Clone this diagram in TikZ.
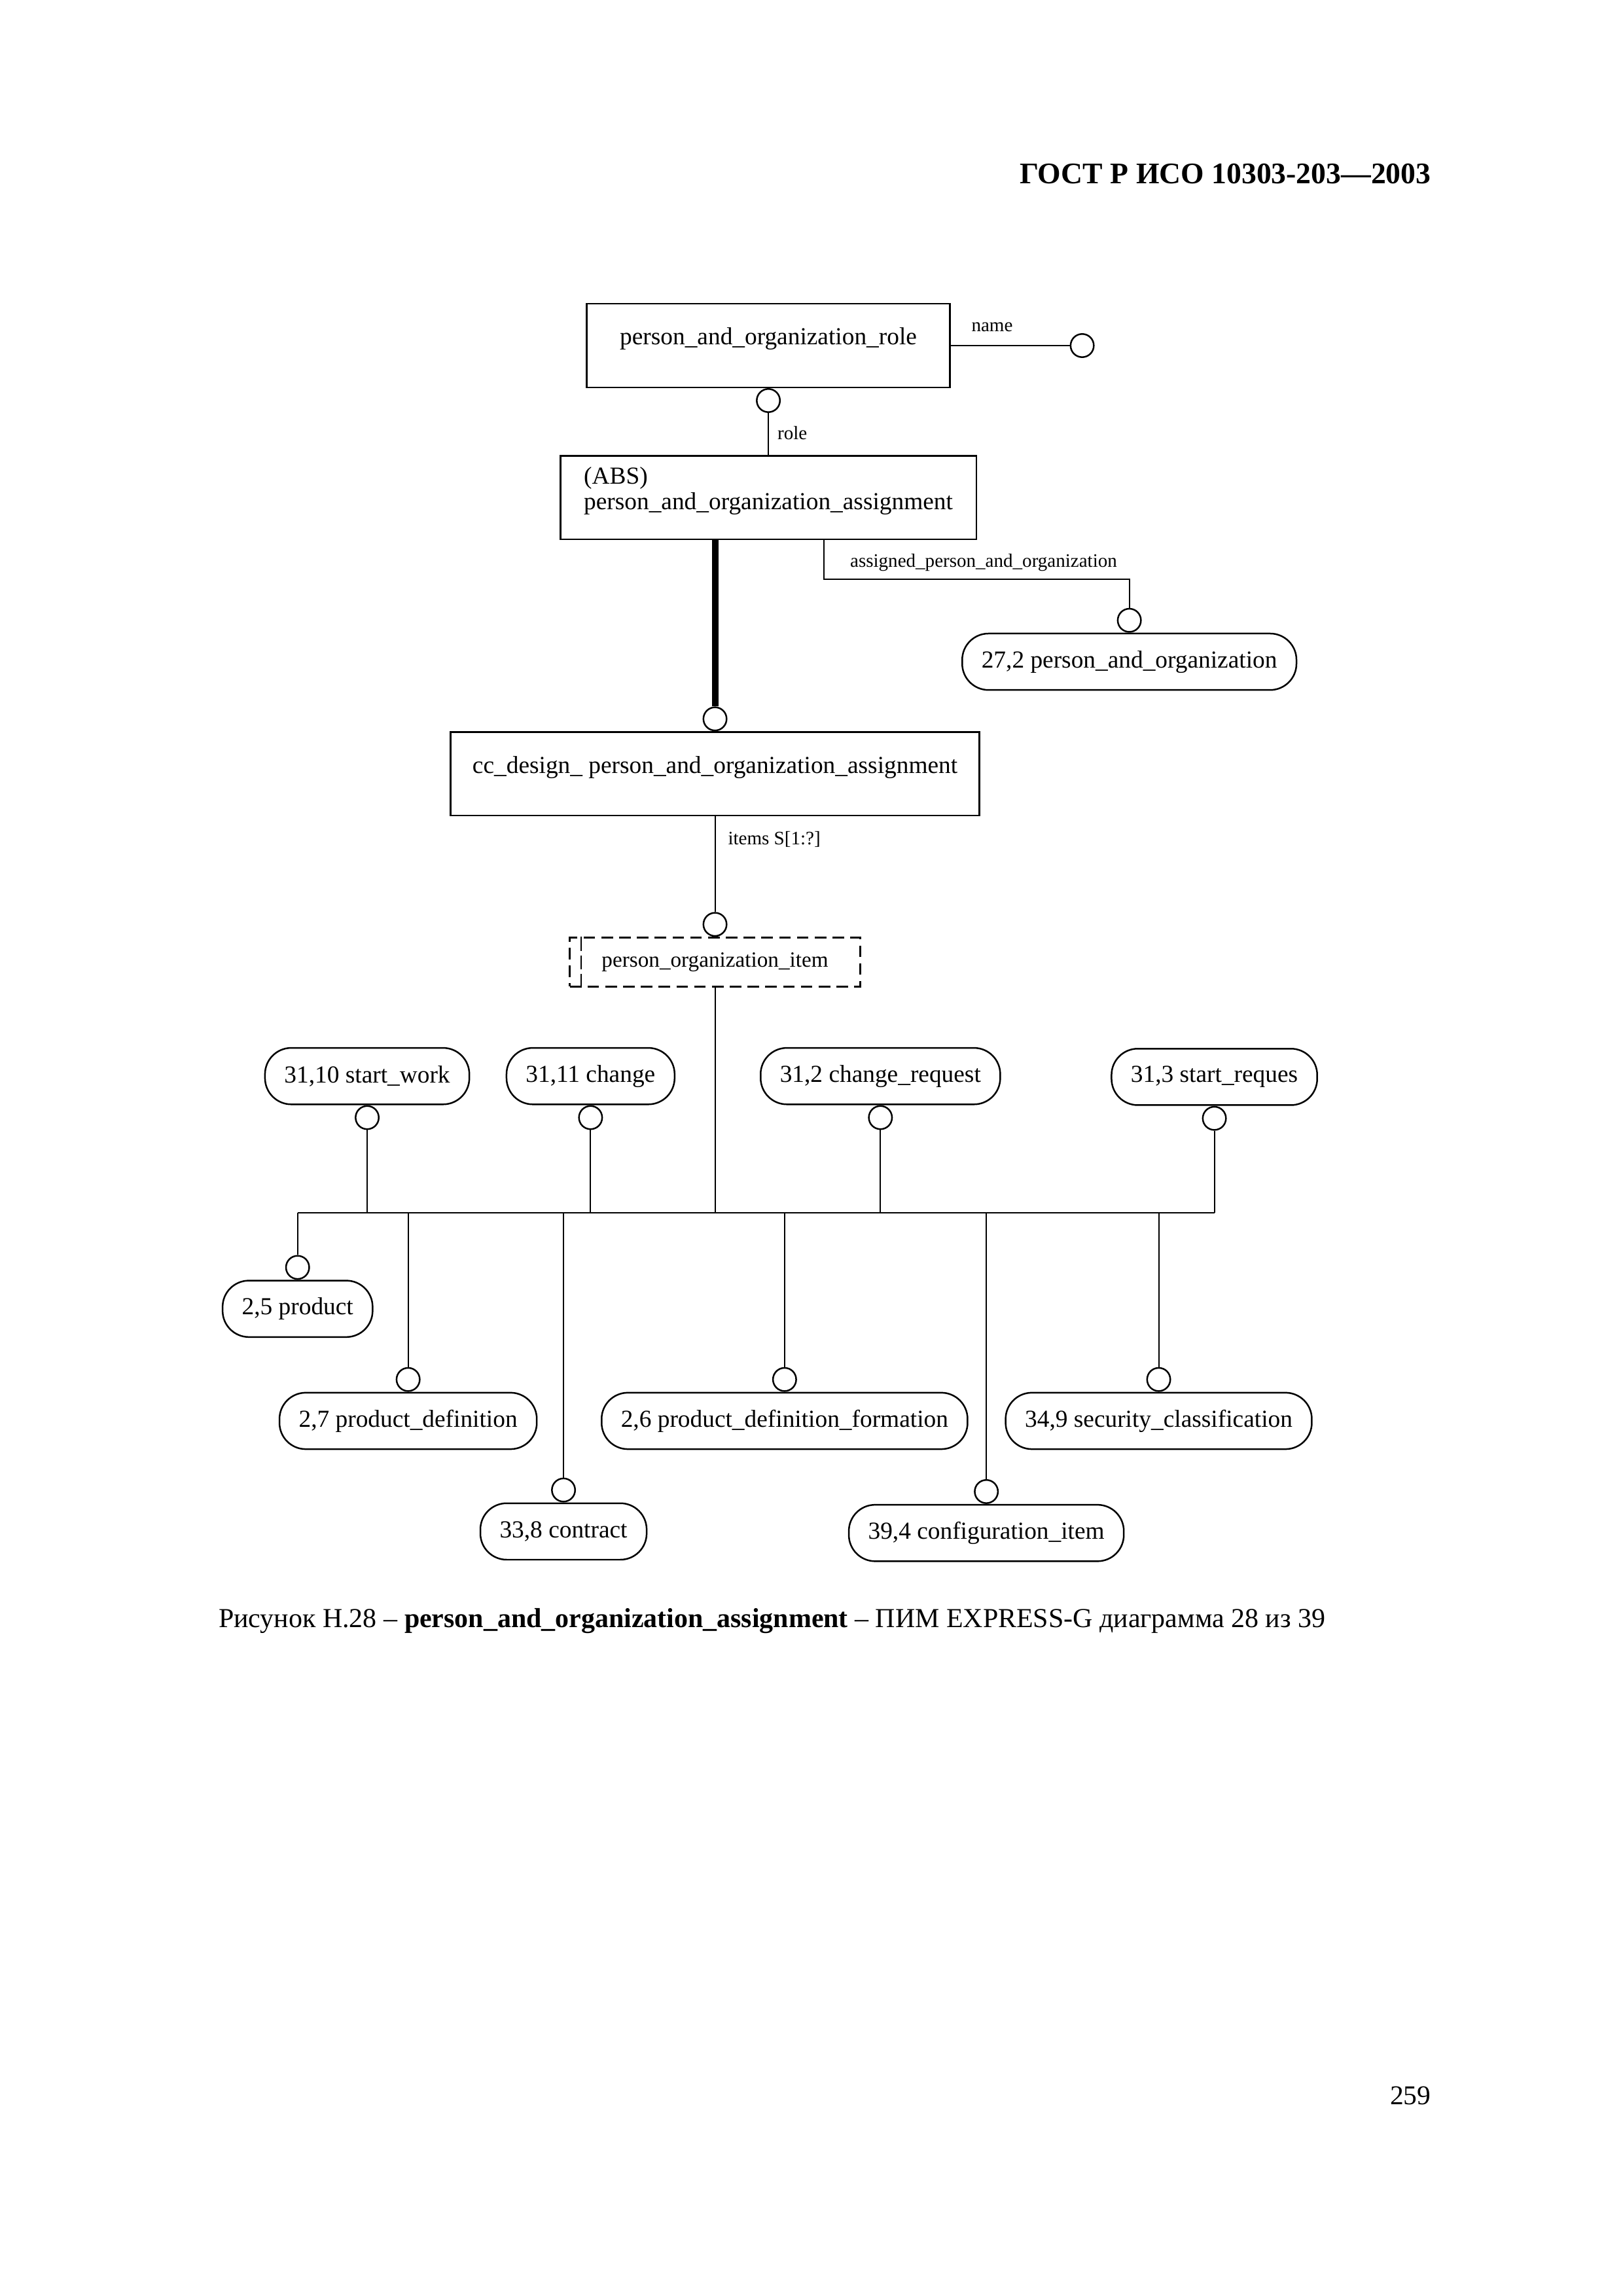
\documentclass[tikz,border=0pt]{standalone}
\usepackage{fontspec}
\setmainfont{Liberation Serif}
\usetikzlibrary{positioning}

\begin{document}
\begin{tikzpicture}[x=1mm, y=-1mm, line width=0.5pt,
        ent/.style={draw, line width=0.6pt, minimum height=10.8mm, text depth=6.8pt,
            font=\fontsize{9}{9.6}\selectfont},
        ref/.style={draw, line width=0.6pt, rounded corners=3.4mm, minimum height=7.3mm,
            inner xsep=2.5mm, font=\fontsize{9}{11}\selectfont},
        sel/.style={draw, line width=0.7pt, dash pattern=on 1.5mm off 0.8mm,
            minimum height=6.3mm, font=\fontsize{8}{10}\selectfont},
        rel/.style={circle, draw, line width=0.6pt, minimum size=3mm, inner sep=0pt},
        lbl/.style={font=\fontsize{7}{8}\selectfont, inner sep=0pt, anchor=west}]
    \useasboundingbox (0,0) rectangle (209.9,297);
    \node[anchor=east, inner sep=0pt, font=\fontsize{11}{13}\selectfont\bfseries] (head) at (185.2,22.5)
        {ГОСТ Р ИСО 10303-203—2003};

    % entities
    \node[ent, minimum width=47mm] (role) at (99.4,44.7) {person\_and\_organization\_role};
    \node[rel] (nameC) at (140,44.7) {};
    \draw (role) -- (nameC);
    \node[lbl] (nameL) at (125.6,42.3) {name};
    \node[rel, below=0pt of role] (roleC) {};
    \node[ent, minimum width=53.8mm, align=left] (abs) at (99.4,64.35)
        {(ABS)\\person\_and\_organization\_assignment};
    \draw (roleC) -- (abs);
    \node[lbl] (roleL) at (100.5,56) {role};
    \node[ent, minimum width=68.4mm] (cc) at (92.5,100.1)
        {cc\_design\_ person\_and\_organization\_assignment};
    \node[rel, above=0pt of cc] (ccC) {};
    \draw[line width=2.4pt] (abs.south -| ccC) -- (ccC);
    \node[ref] (apo) at (146.1,85.6) {27,2 person\_and\_organization};
    \node[rel, above=0pt of apo] (apoC) {};
    \coordinate (apoBend) at (106.6,74.9);
    \draw (abs.south -| apoBend) -- (apoBend) -| (apoC);
    \node[lbl] (apoL) at (109.9,72.8) {assigned\_person\_and\_organization};

    % select type
    \node[sel, minimum width=37.6mm] (item) at (92.5,124.45) {person\_organization\_item};
    \draw[line width=0.7pt, dash pattern=on 1.8mm off 0.6mm]
        ([xshift=1.6mm]item.north west) -- ([xshift=1.6mm]item.south west);
    \node[rel, above=0pt of item] (itemC) {};
    \draw (cc) -- (itemC);
    \node[lbl] (itemsL) at (94.1,108.6) {items S[1:?]};
    \coordinate (bus) at (92.5,156.9);
    \draw (item) -- (item |- bus);

    % upper references
    \node[ref] (sw) at (47.5,139.2) {31,10 start\_work};
    \node[rel, below=0pt of sw] (swC) {};
    \draw (swC) -- (swC |- bus);
    \node[ref] (ch) at (76.4,139.2) {31,11 change};
    \node[rel, below=0pt of ch] (chC) {};
    \draw (chC) -- (chC |- bus);
    \node[ref] (cr) at (113.9,139.2) {31,2 change\_request};
    \node[rel, below=0pt of cr] (crC) {};
    \draw (crC) -- (crC |- bus);
    \node[ref] (sr) at (157.1,139.3) {31,3 start\_reques};
    \node[rel, below=0pt of sr] (srC) {};
    \draw (srC) -- (srC |- bus);

    % lower references
    \node[ref] (prod) at (38.5,169.3) {2,5 product};
    \node[rel, above=0pt of prod] (prodC) {};
    \draw (prodC |- bus) -- (srC |- bus);
    \draw (prodC |- bus) -- (prodC);
    \node[ref] (pd) at (52.8,183.8) {2,7 product\_definition};
    \node[rel, above=0pt of pd] (pdC) {};
    \draw (pdC |- bus) -- (pdC);
    \node[ref] (con) at (72.9,198.1) {33,8 contract};
    \node[rel, above=0pt of con] (conC) {};
    \draw (conC |- bus) -- (conC);
    \node[ref] (pdf) at (101.5,183.8) {2,6 product\_definition\_formation};
    \node[rel, above=0pt of pdf] (pdfC) {};
    \draw (pdfC |- bus) -- (pdfC);
    \node[ref] (cfg) at (127.6,198.3) {39,4 configuration\_item};
    \node[rel, above=0pt of cfg] (cfgC) {};
    \draw (cfgC |- bus) -- (cfgC);
    \node[ref] (sec) at (149.9,183.8) {34,9 security\_classification};
    \node[rel, above=0pt of sec] (secC) {};
    \draw (secC |- bus) -- (secC);

    \node[anchor=west, inner sep=0pt, font=\fontsize{10.1}{12}\selectfont] (cap) at (28.2,209.7)
        {Рисунок Н.28 – \textbf{person\_and\_organization\_assignment} – ПИМ EXPRESS-G диаграмма 28 из 39};
    \node[anchor=east, inner sep=0pt, font=\fontsize{10}{12}\selectfont] (page) at (185.2,271.1) {259};
\end{tikzpicture}
\end{document}
